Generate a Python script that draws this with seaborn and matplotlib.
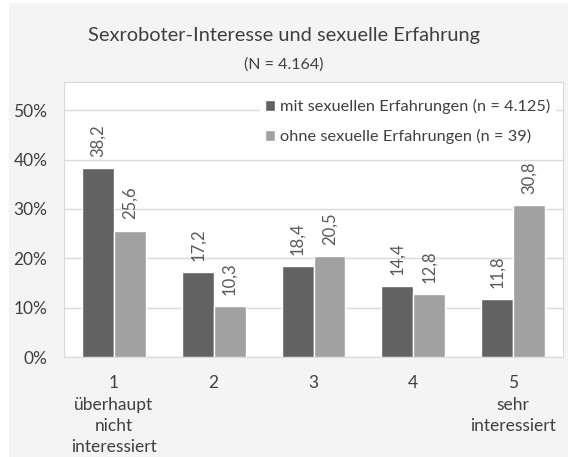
import matplotlib
matplotlib.use("Agg")
import matplotlib.pyplot as plt
import matplotlib.patches as mpatches
from matplotlib.ticker import PercentFormatter, FixedLocator
import seaborn as sns
import pandas as pd

# ── Data ──────────────────────────────────────────────────────────────────────
categories = ["1\nüberhaupt\nnicht\ninteressiert", "2", "3", "4", "5\nsehr\ninteressiert"]
groups = ["mit sexuellen Erfahrungen (n = 4.125)", "ohne sexuelle Erfahrungen (n = 39)"]
mit_erfahrung = [38.2, 17.2, 18.4, 14.4, 11.8]
ohne_erfahrung = [25.6, 10.3, 20.5, 12.8, 30.8]

df = pd.DataFrame({
    "kategorie": categories * 2,
    "gruppe": [groups[0]] * 5 + [groups[1]] * 5,
    "wert": [v / 100 for v in mit_erfahrung + ohne_erfahrung],
})

# ── Style ─────────────────────────────────────────────────────────────────────
sns.set_theme(style="white")
plt.rcParams["font.family"] = ["Lato", "DejaVu Sans"]
TXT = "#404040"
GRID = "#d9d9d9"
COLORS = ["#626262", "#a1a1a1"]

fig = plt.figure(figsize=(5.68, 4.57), dpi=100, facecolor="white")
fig.patches.append(mpatches.Rectangle((9 / 568, 0), 1, 454 / 457, transform=fig.transFigure,
                                      facecolor="#f4f4f4", edgecolor="none", zorder=-10))
ax = fig.add_axes([64 / 568, 100 / 457, 499 / 568, 275 / 457])
ax.set_facecolor("white")

sns.barplot(data=df, x="kategorie", y="wert", hue="gruppe", palette=COLORS,
            width=0.64, edgecolor="white", linewidth=1, ax=ax, zorder=3)

for cont in ax.containers:
    ax.bar_label(cont, labels=[f"{b.get_height() * 100:.1f}".replace(".", ",") for b in cont],
                 rotation=90, padding=8, fontsize=12, color="#595959")

ax.set_xlim(-0.5, 4.5)
ax.set_ylim(0, 0.557)
ax.yaxis.set_major_locator(FixedLocator([0, 0.1, 0.2, 0.3, 0.4, 0.5]))
ax.yaxis.set_major_formatter(PercentFormatter(1.0, decimals=0))
ax.grid(axis="y", color=GRID, lw=1, zorder=0)
ax.set_axisbelow(True)
for s in ax.spines.values():
    s.set_color(GRID)
    s.set_linewidth(0.8)
ax.set_xlabel("")
ax.set_ylabel("")
ax.tick_params(axis="y", length=0, pad=12, labelsize=12.5, labelcolor=TXT)
ax.tick_params(axis="x", length=0, pad=13, labelsize=12.5, labelcolor=TXT)
for lab in ax.get_xticklabels():
    lab.set_linespacing(1.42)
    lab.set_verticalalignment("top")

ax.legend(title=None, loc="upper right", bbox_to_anchor=(0.985, 0.955), frameon=True,
          facecolor="white", edgecolor="none", framealpha=1, fancybox=False,
          handlelength=0.65, handleheight=0.65, handletextpad=0.3, labelspacing=0.9,
          fontsize=11.8, labelcolor=TXT, borderpad=0.3, borderaxespad=0)

fig.text(0.5, 1 - 36 / 457, "Sexroboter-Interesse und sexuelle Erfahrung",
         ha="center", va="center", fontsize=14.4, color=TXT)
fig.text(0.5, 1 - 65 / 457, "(N = 4.164)", ha="center", va="center", fontsize=11.5, color=TXT)

fig.savefig("out.png", dpi=100, facecolor=fig.get_facecolor())
